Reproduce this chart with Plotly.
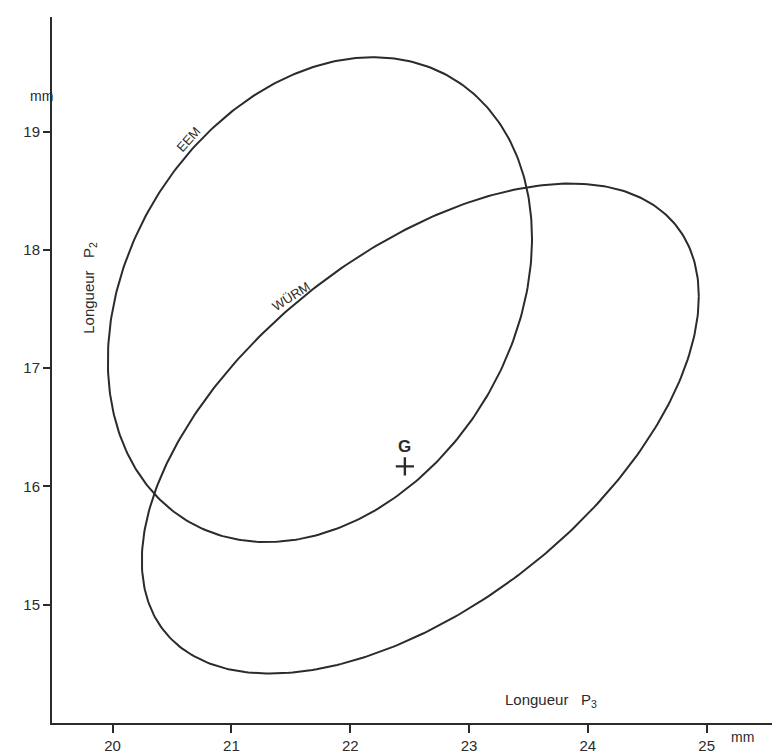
import numpy as np
import plotly.graph_objects as go

# Confidence ellipses: centre (x, y), half-extents along x and y, and x-y covariance term
groups = ["EEM", "WÜRM"]
centre_x = [21.745, 22.59]
centre_y = [17.58, 16.49]
half_x = [1.785, 2.344]
half_y = [2.05, 2.072]
cov_xy = [0.92, 2.62]

# Mean point G
g_x = [22.46]
g_y = [16.17]

x_ticks = [20, 21, 22, 23, 24, 25]
y_ticks = [15, 16, 17, 18, 19]

INK = "#2b2b2b"
FONT = "Liberation Sans, Arial, sans-serif"

fig = go.Figure()

t = np.linspace(0, 2 * np.pi, 400)
for name, cx, cy, sx, sy, sxy in zip(groups, centre_x, centre_y, half_x, half_y, cov_xy):
    cov = np.array([[sx ** 2, sxy], [sxy, sy ** 2]])
    L = np.linalg.cholesky(cov)
    pts = L @ np.vstack([np.cos(t), np.sin(t)])
    fig.add_trace(go.Scatter(
        x=cx + pts[0], y=cy + pts[1], mode="lines", name=name,
        line=dict(color=INK, width=2), hoverinfo="skip", showlegend=False,
    ))

fig.add_trace(go.Scatter(
    x=g_x, y=g_y, mode="markers", showlegend=False,
    marker=dict(symbol="cross-thin", size=13, line=dict(color=INK, width=2.4)),
))

annotations = [
    dict(x=20.64, y=18.93, xref="x", yref="y", text="EEM", textangle=-48,
         showarrow=False, font=dict(size=13, color=INK, family=FONT)),
    dict(x=21.50, y=17.61, xref="x", yref="y", text="WÜRM", textangle=-33,
         showarrow=False, font=dict(size=13, color=INK, family=FONT)),
    dict(x=g_x[0], y=g_y[0] + 0.17, xref="x", yref="y", text="<b>G</b>",
         showarrow=False, font=dict(size=17, color=INK, family=FONT)),
    dict(x=23.69, y=14.19, xref="x", yref="y",
         text="Longueur&nbsp;&nbsp;&nbsp;P<sub>3</sub>",
         showarrow=False, font=dict(size=15, color=INK, family=FONT)),
    dict(x=0.035, y=0.616, xref="paper", yref="paper",
         text="Longueur&nbsp;&nbsp;&nbsp;P<sub>2</sub>",
         textangle=-90, showarrow=False, font=dict(size=15, color=INK, family=FONT)),
    dict(x=-0.033, y=0.902, xref="paper", yref="paper", text="mm",
         showarrow=False, font=dict(size=14, color=INK, family=FONT)),
    dict(x=0.978, y=-0.034, xref="paper", yref="paper", text="mm",
         showarrow=False, font=dict(size=14, color=INK, family=FONT)),
]

fig.update_layout(
    width=774, height=754,
    margin=dict(l=52, r=2, t=17, b=31, autoexpand=False),
    paper_bgcolor="white", plot_bgcolor="white",
    annotations=annotations,
    font=dict(family=FONT, color=INK),
)
fig.update_xaxes(
    range=[19.49, 25.55], tickvals=x_ticks, ticktext=[str(v) for v in x_ticks],
    showgrid=False, zeroline=False, showline=True, linecolor=INK, linewidth=2,
    ticks="outside", ticklen=8, tickwidth=2, tickcolor=INK, automargin=False,
    tickfont=dict(size=15, color=INK, family=FONT),
)
fig.update_yaxes(
    range=[14.0, 19.97], tickvals=y_ticks, ticktext=[str(v) for v in y_ticks],
    showgrid=False, zeroline=False, showline=True, linecolor=INK, linewidth=2,
    ticks="outside", ticklen=7, tickwidth=2, tickcolor=INK, automargin=False,
    tickfont=dict(size=15, color=INK, family=FONT),
)

fig.write_html("out.html")
